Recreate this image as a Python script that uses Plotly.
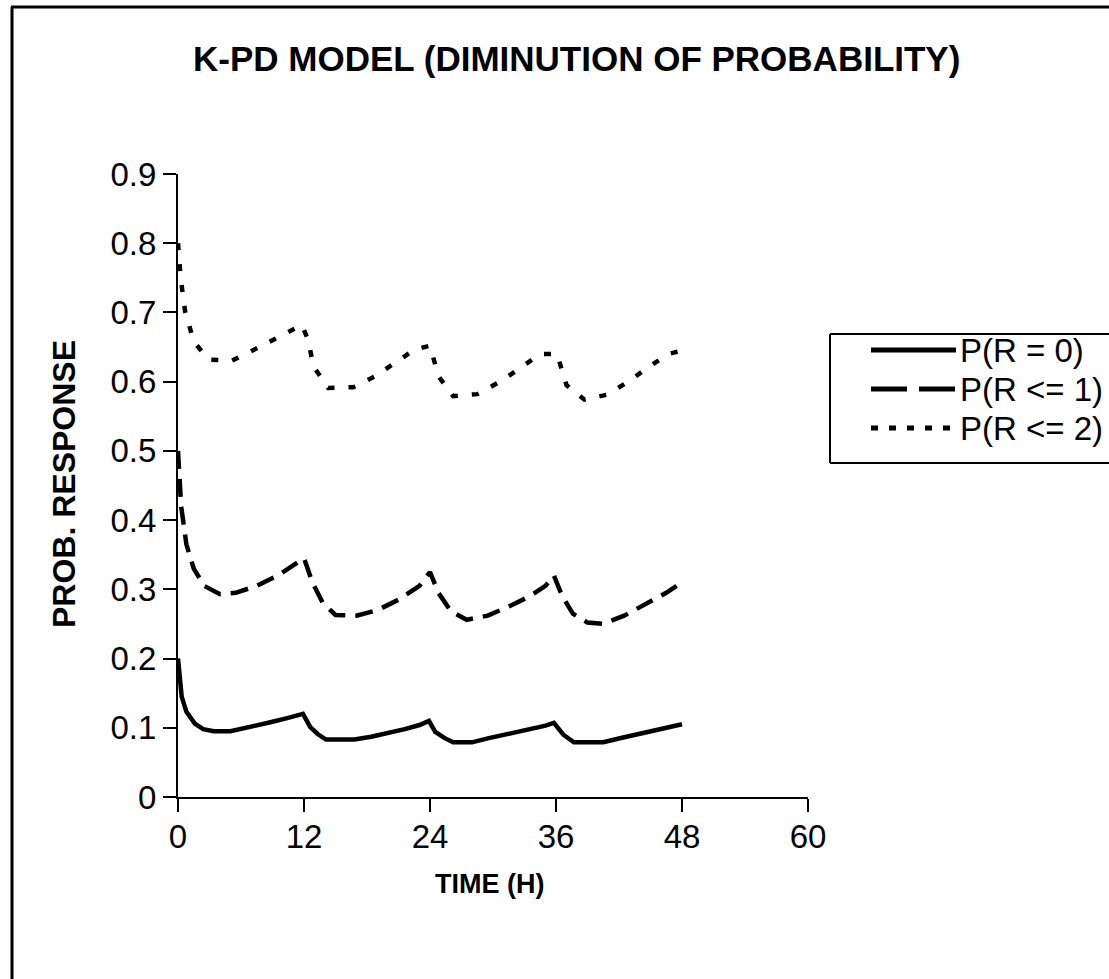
import plotly.graph_objects as go

# Time after first dose (hours)
t_r0 = [0, 0.35, 0.8, 1.6, 2.4, 3.4, 5.0, 6.6, 8.8, 10.4, 11.9, 12.6, 13.3, 14.1, 16.8,
        18.4, 20.0, 21.6, 23.0, 23.9, 24.5, 25.4, 26.2, 28.0, 29.6, 31.5, 33.4, 35.0,
        35.8, 36.7, 37.7, 40.5, 42.4, 44.3, 46.2, 48.0]
p_r0 = [0.200, 0.145, 0.123, 0.106, 0.098, 0.095, 0.095, 0.100, 0.108, 0.114, 0.120,
        0.101, 0.091, 0.083, 0.083, 0.087, 0.092, 0.098, 0.104, 0.110, 0.094, 0.085,
        0.079, 0.079, 0.085, 0.091, 0.097, 0.103, 0.107, 0.090, 0.079, 0.079, 0.086,
        0.092, 0.099, 0.105]

t_r1 = [0, 0.3, 0.8, 1.5, 2.5, 4.0, 5.5, 7.5, 9.5, 11.0, 12.0, 12.8, 13.8, 15.0, 17.0,
        19.0, 21.0, 23.0, 24.0, 24.8, 26.0, 27.5, 29.5, 31.5, 33.5, 35.0, 35.8, 36.6,
        37.6, 39.0, 40.5, 42.5, 44.5, 46.5, 48.0]
p_r1 = [0.500, 0.420, 0.365, 0.330, 0.305, 0.293, 0.295, 0.305, 0.320, 0.335, 0.345,
        0.310, 0.280, 0.263, 0.262, 0.270, 0.285, 0.305, 0.325, 0.295, 0.268, 0.256,
        0.262, 0.275, 0.290, 0.305, 0.320, 0.290, 0.265, 0.252, 0.250, 0.262, 0.278,
        0.295, 0.310]

t_r2 = [0, 0.25, 0.67, 1.5, 2.9, 5.1, 7.1, 9.0, 11.0, 11.8, 12.4, 12.9, 14.3, 16.7,
        18.8, 20.7, 22.5, 24.0, 24.8, 26.2, 28.5, 30.8, 32.6, 34.5, 36.1, 37.0, 38.7,
        40.8, 42.9, 44.7, 46.7, 48.0]
p_r2 = [0.800, 0.750, 0.702, 0.658, 0.632, 0.630, 0.645, 0.660, 0.676, 0.682, 0.660,
        0.622, 0.591, 0.592, 0.608, 0.627, 0.646, 0.652, 0.608, 0.579, 0.582, 0.601,
        0.620, 0.640, 0.640, 0.595, 0.574, 0.581, 0.600, 0.620, 0.640, 0.645]

series_names = ["P(R = 0)", "P(R <= 1)", "P(R <= 2)"]
x_ticks = [0, 12, 24, 36, 48, 60]
y_ticks = [0, 0.1, 0.2, 0.3, 0.4, 0.5, 0.6, 0.7, 0.8, 0.9]

FONT = "Liberation Sans, Arial, sans-serif"
W, H = 1109, 979
L, R, T, B = 178, 301, 174, 182
PW, PH = W - L - R, H - T - B


def px(x):
    return (x - L) / PW


def py(y):
    return (H - B - y) / PH


def hline(x0, x1, y, width=2, dash="solid"):
    return dict(type="line", xref="paper", yref="paper", x0=px(x0), x1=px(x1),
                y0=py(y), y1=py(y), line=dict(color="black", width=width, dash=dash))


def vline(x, y0, y1, width=2):
    return dict(type="line", xref="paper", yref="paper", x0=px(x), x1=px(x),
                y0=py(y0), y1=py(y1), line=dict(color="black", width=width))


fig = go.Figure()
fig.add_trace(go.Scatter(x=t_r0, y=p_r0, mode="lines", name=series_names[0],
                         line=dict(color="black", width=4.5)))
fig.add_trace(go.Scatter(x=t_r1, y=p_r1, mode="lines", name=series_names[1],
                         line=dict(color="black", width=4.5, dash="18px,10px")))
fig.add_trace(go.Scatter(x=t_r2, y=p_r2, mode="lines", name=series_names[2],
                         line=dict(color="black", width=4.5, dash="7px,14px")))

axis_common = dict(showgrid=False, zeroline=False, showline=True, linecolor="black",
                   linewidth=2, ticks="outside", ticklen=13, tickwidth=2,
                   tickcolor="black", tickfont=dict(family=FONT, size=33, color="black"))

fig.update_xaxes(range=[0, 60], tickvals=x_ticks, ticktext=[str(v) for v in x_ticks],
                 ticklabelstandoff=-4, **axis_common)
fig.update_yaxes(range=[0, 0.9], tickvals=y_ticks,
                 ticktext=["0" if v == 0 else f"{v:.1f}" for v in y_ticks],
                 ticklabelstandoff=0, **axis_common)

# chart frame (left and top edges fall inside the page)
shapes = [vline(12, 7, 990, width=3), hline(11, 1120, 7, width=3)]

# legend frame
LG_X0, LG_TOP, LG_BOT = 830, 334, 463
shapes += [vline(LG_X0, LG_TOP, LG_BOT), hline(LG_X0, 1120, LG_TOP),
           hline(LG_X0, 1120, LG_BOT)]

annotations = [
    dict(text="<b>K-PD MODEL (DIMINUTION OF PROBABILITY)</b>", xref="paper", yref="paper",
         x=px(576), y=py(59), showarrow=False, xanchor="center", yanchor="middle",
         font=dict(family=FONT, size=35, color="black")),
    dict(text="<b>TIME (H)</b>", xref="paper", yref="paper", x=px(489), y=py(884),
         showarrow=False, xanchor="center", yanchor="middle",
         font=dict(family=FONT, size=27, color="black")),
    dict(text="<b>PROB. RESPONSE</b>", xref="paper", yref="paper", x=px(64), y=py(484),
         showarrow=False, xanchor="center", yanchor="middle", textangle=-90,
         font=dict(family=FONT, size=32, color="black")),
]

legend_rows = [350, 389, 428]
legend_dash = ["solid", "36px,12px", "7px,11px"]
for name, yy, dash in zip(series_names, legend_rows, legend_dash):
    shapes.append(hline(871, 956, yy, width=5, dash=dash))
    annotations.append(dict(text=name, xref="paper", yref="paper", x=px(958), y=py(yy),
                            showarrow=False, xanchor="left", yanchor="middle",
                            font=dict(family=FONT, size=33, color="black")))

fig.update_layout(width=W, height=H, margin=dict(l=L, r=R, t=T, b=B),
                  paper_bgcolor="white", plot_bgcolor="white", showlegend=False,
                  shapes=shapes, annotations=annotations)

fig.write_html("out.html")
